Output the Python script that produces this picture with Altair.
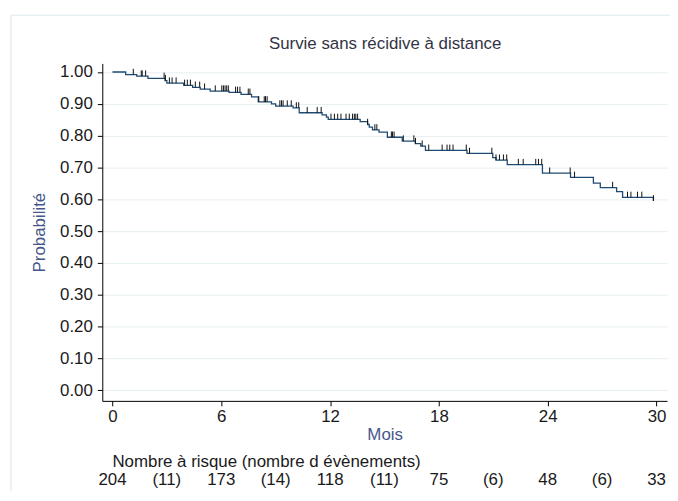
import bisect
import altair as alt
import pandas as pd

# Kaplan-Meier step function (month, survival after the step)
step_time = [0.0, 0.73, 1.34, 1.96, 2.90, 3.00, 3.93, 4.42, 4.84, 5.39, 6.43, 7.09,
             7.67, 8.04, 8.77, 9.00, 9.96, 10.30, 11.56, 11.80, 11.90, 13.66, 14.07,
             14.16, 14.34, 14.70, 15.16, 15.98, 16.70, 17.00, 17.26, 19.55, 20.97,
             21.15, 21.77, 23.71, 25.26, 26.52, 26.90, 27.80, 28.13, 29.83]
step_surv = [1.000, 0.992, 0.987, 0.980, 0.973, 0.965, 0.958, 0.952, 0.946, 0.940, 0.936,
             0.930, 0.922, 0.906, 0.900, 0.893, 0.887, 0.872, 0.865, 0.858, 0.851, 0.844,
             0.835, 0.827, 0.818, 0.811, 0.795, 0.783, 0.775, 0.767, 0.754, 0.744, 0.731,
             0.723, 0.709, 0.682, 0.669, 0.651, 0.637, 0.624, 0.606, 0.595]

# censored observations (months)
censor_time = [1.15, 1.59, 1.64, 1.83, 2.85, 2.92, 3.14, 3.29, 3.51, 3.98, 4.13, 4.30,
               4.57, 4.81, 5.08, 5.67, 6.03, 6.12, 6.21, 6.30, 6.39, 6.79, 6.90, 7.03,
               7.49, 7.58, 8.07, 8.37, 8.44, 8.53, 9.23, 9.32, 9.41, 9.64, 9.86, 10.14,
               10.27, 10.74, 11.29, 11.51, 12.05, 12.24, 12.42, 12.60, 12.88, 13.06,
               13.24, 13.34, 13.42, 13.52, 14.07, 14.47, 14.58, 15.38, 15.44, 15.53,
               16.04, 16.62, 16.71, 17.08, 17.44, 18.18, 18.45, 18.60, 18.78, 19.51,
               19.69, 20.92, 21.15, 21.34, 21.56, 21.74, 22.38, 22.65, 23.34, 23.49,
               23.67, 24.11, 25.24, 25.48, 27.58, 28.40, 28.59, 28.95, 29.19, 29.83]

risk_month = [0, 3, 6, 9, 12, 15, 18, 21, 24, 27, 30]
risk_label = ["204", "(11)", "173", "(14)", "118", "(11)", "75", "(6)", "48", "(6)", "33"]
risk_caption = "Nombre à risque (nombre d évènements)"
title_text = "Survie sans récidive à distance"

x_ticks = [0, 6, 12, 18, 24, 30]
y_ticks = [0.0, 0.1, 0.2, 0.3, 0.4, 0.5, 0.6, 0.7, 0.8, 0.9, 1.0]

FONT = "Liberation Sans"
FS = 17
TITLE_BLUE = "#45578a"
GRID = "#e6eff1"
TXT = "#1a1a1a"
W, H = 569, 340

curve_df = pd.DataFrame({"t": step_time, "s": step_surv})


def surv_at(t):
    i = bisect.bisect_right(step_time, t) - 1
    return step_surv[max(i, 0)]


cens_df = pd.DataFrame({"t": censor_time,
                        "s": [surv_at(t) for t in censor_time]})
cens_df["s2"] = cens_df["s"] + 0.018

risk_df = pd.DataFrame({"m": risk_month, "lab": risk_label})

xscale = alt.Scale(domain=[-0.56, 30.58], nice=False, zero=False)
yscale = alt.Scale(domain=[-0.0334, 1.027], nice=False, zero=False)

xaxis = alt.Axis(values=x_ticks, title="Mois", grid=False, tickSize=5,
                 labelFontSize=FS, titleFontSize=FS, titleColor=TITLE_BLUE,
                 titleFontWeight="normal", labelPadding=3, titlePadding=2,
                 domainColor="black", tickColor="black", labelColor=TXT,
                 labelFont=FONT, titleFont=FONT)
yaxis = alt.Axis(values=y_ticks, tickCount=11, format=".2f", title="Probabilité",
                 grid=True, gridColor=GRID, tickSize=5, labelFontSize=FS,
                 titleFontSize=FS, titleColor=TITLE_BLUE, titleFontWeight="normal",
                 labelPadding=5, titlePadding=11, domainColor="black",
                 tickColor="black", labelColor=TXT, labelFont=FONT, titleFont=FONT)

curve = alt.Chart(curve_df).mark_line(
    interpolate="step-after", color="#1f4b73", strokeWidth=1.3
).encode(
    x=alt.X("t:Q", scale=xscale, axis=xaxis),
    y=alt.Y("s:Q", scale=yscale, axis=yaxis),
)

cens = alt.Chart(cens_df).mark_rule(color="#111111", strokeWidth=1).encode(
    x="t:Q", y="s:Q", y2="s2:Q"
)

risk = alt.Chart(risk_df).mark_text(
    font=FONT, fontSize=FS, color=TXT, baseline="middle"
).encode(
    x="m:Q", y=alt.value(420), text="lab:N"
)

risk_title = alt.Chart(pd.DataFrame({"m": [0], "lab": [risk_caption]})).mark_text(
    font=FONT, fontSize=FS, color=TXT, baseline="middle", align="left", dx=0
).encode(
    x="m:Q", y=alt.value(402), text="lab:N"
)

title = alt.Chart(pd.DataFrame({"lab": [title_text]})).mark_text(
    font=FONT, fontSize=FS, color="#333344", baseline="middle", align="center"
).encode(
    x=alt.value(285), y=alt.value(-20), text="lab:N"
)

frame_df = pd.DataFrame({"a": [0]})
frame_top = alt.Chart(frame_df).mark_rule(color=GRID, strokeWidth=1.5).encode(
    x=alt.value(-92), x2=alt.value(W + 3), y=alt.value(-48.5)
)
frame_left = alt.Chart(frame_df).mark_rule(color=GRID, strokeWidth=1.5).encode(
    x=alt.value(-92), y=alt.value(-48.5), y2=alt.value(H + 91)
)

chart = alt.layer(frame_top, frame_left, curve, cens, risk_title, risk, title).properties(
    width=W, height=H,
    autosize=alt.AutoSizeParams(type="none"),
    padding={"left": 95, "top": 54, "right": 3, "bottom": 91},
).configure(
    font=FONT,
).configure_view(stroke=None)

chart.save("out.html", embed_options={"renderer": "svg", "actions": False})
